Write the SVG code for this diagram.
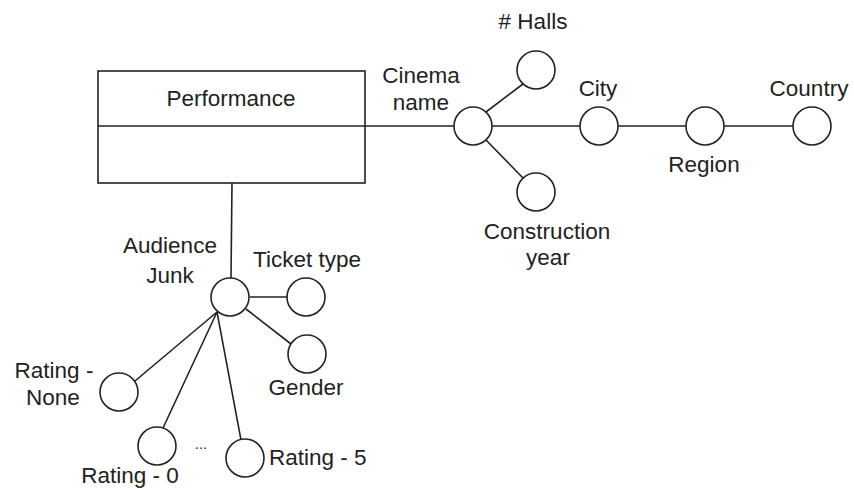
<svg xmlns="http://www.w3.org/2000/svg" width="854" height="493" viewBox="0 0 854 493">
<style>
.ln{stroke:#222;stroke-width:1.6;fill:none}
.c{stroke:#222;stroke-width:1.6;fill:#fff}
text{font-family:"Liberation Sans",Arial,sans-serif;font-size:22.5px;fill:#222}
.m{text-anchor:middle}
</style>
<rect width="854" height="493" fill="#fff"/>
<g id="connectors">
<line class="ln" x1="365" y1="126" x2="454" y2="126"/>
<line class="ln" x1="492" y1="126" x2="580" y2="126"/>
<line class="ln" x1="618" y1="126" x2="686" y2="126"/>
<line class="ln" x1="724" y1="126" x2="793" y2="126"/>
<line class="ln" x1="486" y1="112" x2="523" y2="84"/>
<line class="ln" x1="486" y1="140" x2="523" y2="178"/>
<line class="ln" x1="232" y1="183" x2="231" y2="278"/>
<line class="ln" x1="250" y1="297" x2="287" y2="297"/>
<line class="ln" x1="246" y1="309" x2="291" y2="344"/>
<line class="ln" x1="217" y1="312" x2="135" y2="381"/>
<line class="ln" x1="217" y1="312" x2="163" y2="428"/>
<line class="ln" x1="217" y1="312" x2="241" y2="440"/>
</g>
<g id="performance">
<rect x="98" y="71" width="267" height="112" fill="#fff" stroke="#222" stroke-width="1.6"/>
<line class="ln" x1="98" y1="126" x2="365" y2="126"/>
<text class="m" x="231" y="106">Performance</text>
</g>
<g id="cinema-name">
<circle class="c" cx="473" cy="126" r="19"/>
<text class="m" x="421" y="83">Cinema</text>
<text class="m" x="421" y="110">name</text>
</g>
<g id="halls">
<circle class="c" cx="536" cy="70" r="19"/>
<text class="m" x="533" y="29"># Halls</text>
</g>
<g id="construction-year">
<circle class="c" cx="536" cy="192" r="19"/>
<text class="m" x="547" y="239">Construction</text>
<text class="m" x="548" y="265">year</text>
</g>
<g id="city">
<circle class="c" cx="599" cy="126" r="19"/>
<text class="m" x="598" y="96">City</text>
</g>
<g id="region">
<circle class="c" cx="705" cy="126" r="19"/>
<text class="m" x="704" y="172">Region</text>
</g>
<g id="country">
<circle class="c" cx="812" cy="126" r="19"/>
<text class="m" x="809" y="96">Country</text>
</g>
<g id="audience-junk">
<circle class="c" cx="230" cy="297" r="19"/>
<text class="m" x="170" y="253">Audience</text>
<text class="m" x="170" y="283">Junk</text>
</g>
<g id="ticket-type">
<circle class="c" cx="306" cy="297" r="19"/>
<text class="m" x="307" y="267">Ticket type</text>
</g>
<g id="gender">
<circle class="c" cx="307" cy="354" r="19"/>
<text class="m" x="306" y="395">Gender</text>
</g>
<g id="rating-none">
<circle class="c" cx="119" cy="392" r="19"/>
<text class="m" x="54" y="378">Rating -</text>
<text class="m" x="53" y="405">None</text>
</g>
<g id="rating-0">
<circle class="c" cx="157" cy="446" r="19"/>
<text class="m" x="130" y="483">Rating - 0</text>
</g>
<g id="ellipsis">
<text class="m" x="201" y="449" style="font-size:15px">...</text>
</g>
<g id="rating-5">
<circle class="c" cx="245" cy="458" r="19"/>
<text x="269" y="465">Rating - 5</text>
</g>
</svg>
